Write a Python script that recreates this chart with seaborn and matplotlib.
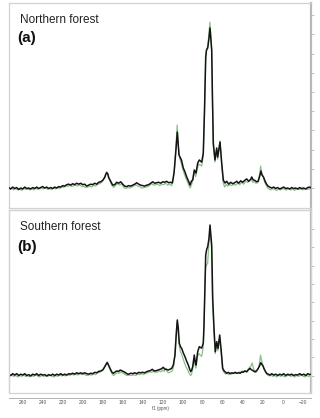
import numpy as np
import pandas as pd
import seaborn as sns
import matplotlib
matplotlib.use('Agg')
import matplotlib.pyplot as plt
from matplotlib.patches import Rectangle
from matplotlib.ticker import MultipleLocator

# panel titles and labels
titles = ['Northern forest', 'Southern forest']
letters = ['(a)', '(b)']
x_ticks = list(range(260, -21, -20))
x_label = 'f1 (ppm)'

# (ppm, intensity), black = sample, green = overlay
north_black = [
    (274, 0.5), (272, -1), (270, 1), (268, -0.5), (266, 0.5), (264, -1.5), (262, 0), (260, -1),
    (258, 1), (256, -0.5), (254, 0), (252, -1), (250, 0.5), (248, -0.5), (246, 1), (244, -0.5),
    (242, 0.5), (240, 1.5), (238, 0), (236, 1), (234, -0.5), (232, 0.5), (230, -0.5), (228, 1),
    (226, 0), (224, 1.5), (222, 1), (220, 2.5), (218, 2), (216, 3.5), (214, 4), (212, 3),
    (210, 4.5), (208, 3.5), (206, 5), (204, 4), (202, 5), (200, 3.5), (198, 4), (196, 2),
    (194, 3), (192, 4), (190, 3.5), (188, 5), (186, 4), (184, 6), (182, 6.5), (180, 8),
    (178, 11), (177, 14), (176, 16), (175, 15), (174, 11), (172, 7), (170, 3), (168, 3.5),
    (166, 6), (164, 5), (162, 6.5), (160, 4), (158, 2), (156, 1.5), (154, 2.5), (152, 2),
    (150, 3), (148, 4), (146, 5.5), (144, 4), (142, 3), (140, 2.5), (138, 2), (136, 3),
    (134, 3.5), (132, 5), (130, 6.5), (128, 5), (126, 5.5), (124, 6), (122, 5), (120, 6.5),
    (118, 6), (116, 7), (114, 5.5), (112, 6), (110.4, 5.2), (108.7, 15.6), (107, 36.5),
    (105.4, 58.3), (103.7, 34.4), (102.7, 32.3), (101.2, 29), (99.4, 20.8), (97.7, 16.7),
    (96, 11.5), (94.2, 7.3), (92.7, 3.1), (91.2, 7.3), (90, 8.3), (88.4, 18.8), (86.7, 15.6),
    (85, 26), (83.4, 29.2), (82.2, 28), (81, 27), (79.4, 36.5), (78.2, 81), (77, 136.5),
    (76.2, 143.8), (75, 145.8), (73.7, 156), (72.7, 166.7), (71.7, 154), (71, 143.8),
    (70.2, 91.7), (69.4, 46.9), (67.7, 29.2), (66, 41.7), (65, 32.3), (62.7, 47.9), (61, 26),
    (59.4, 8.3), (57.7, 5.2), (56, 7), (54, 4), (52, 6), (50, 4.5), (48, 5.5), (46, 7),
    (44, 5), (42, 7.5), (40, 6), (38, 8), (36, 9.5), (34, 7), (32, 9), (31, 11.5), (29.5, 8.5),
    (28, 8), (26, 6.5), (24.5, 7), (22.7, 13.5), (21.7, 17.7), (20.7, 13.5), (19.2, 11.5),
    (17.7, 7.3), (16.2, 4.2), (14.7, 2), (13, 1), (11, 0), (9, 1), (7, -0.5), (5, 0.5),
    (3, -1), (1, 0), (-1, 1), (-3, -0.5), (-5, 0), (-7, -1), (-9, 0.5), (-11, -0.5), (-13, 0),
    (-15, -1), (-17, 0.5), (-19, -0.5), (-21, 0), (-23, -1), (-25, 0.5), (-27, 1), (-28.5, 0),
]
north_green = [
    (273, -1.5), (271, 0), (269, -2), (267, -0.5), (265, -2), (263, -1), (261, -2.5), (259, 0),
    (257, -1.5), (255, -1), (253, -2), (251, -0.5), (249, -2), (247, 0), (245, -1.5), (243, -0.5),
    (241, 0), (239, -1), (237, 0.5), (235, -1.5), (233, -0.5), (231, -1.5), (229, 0), (227, -1),
    (225, 0.5), (223, -0.5), (221, 1.5), (219, 0.5), (217, 2.5), (215, 1.5), (213, 3), (211, 1.5),
    (209, 2.5), (207, 3), (205, 2), (203, 3.5), (201, 1.5), (199, 2), (197, 0.5), (195, 1),
    (193, 2), (191, 1), (189, 3), (187, 2), (185, 4), (183, 4.5), (181, 6), (179, 9),
    (177.5, 13), (176, 17), (174.5, 12), (173, 8), (171, 3), (169, 0.5), (167, 3), (165, 4.5),
    (163, 3), (161, 4.5), (159, 0.5), (157, -0.5), (155, 0.5), (153, 0), (151, 1), (149, 2),
    (147, 3.5), (145, 2), (143, 1.5), (141, 0), (139, 0.5), (137, 1), (135, 1.5), (133, 3),
    (131, 4.5), (129, 3), (127, 3.5), (125, 4), (123, 2.5), (121, 4), (119, 3.5), (117, 5),
    (115, 3), (113, 4), (111, 2.5), (109.5, 8), (108, 22), (106.5, 48), (105.5, 65.6),
    (104.5, 45), (103, 31), (101.5, 26), (100, 20), (98.5, 15), (97, 11), (95.5, 7), (94, 3),
    (92.5, 0), (91, 4), (89.5, 10), (88.5, 17), (87, 12), (85.5, 20), (84, 25), (82.5, 24),
    (81, 23), (79.5, 33), (78.2, 78), (77, 134), (76, 145), (75, 147), (73.8, 160),
    (72.8, 172.9), (71.8, 158), (71, 142), (70.2, 88), (69.4, 44), (67.7, 27), (66, 40),
    (65, 30), (62.7, 49), (61, 24), (59.4, 5), (58, 1), (56.5, 4), (55, 2), (53, 3.5),
    (51, 2.5), (49, 4), (47, 3), (45, 5), (43, 3.5), (41, 6), (39, 4), (37, 7), (35, 6),
    (33, 8), (31.5, 10), (30, 6), (28.5, 6.5), (27, 5), (25, 5.5), (23.5, 12), (22, 22.9),
    (21, 15), (19.5, 12), (18, 6), (16.5, 3), (15, 0), (13.5, -1), (12, -2), (10, -0.5),
    (8, -1.5), (6, -2.5), (4, -1), (2, -2), (0, -0.5), (-2, -1.5), (-4, -2), (-6, -0.5),
    (-8, -2), (-10, -1), (-12, -2.5), (-14, -0.5), (-16, -1.5), (-18, -1), (-20, -2),
    (-22, -0.5), (-24, -1.5), (-26, -1), (-28.5, -1.5),
]
south_black = [
    (274, 1.5), (272, 0), (270, 2), (268, 0.5), (266, 2), (264, 0), (262, 1.5), (260, 0.5),
    (258, 2), (256, 0), (254, 1), (252, -0.5), (250, 1.5), (248, 0.5), (246, 2), (244, 0),
    (242, 1.5), (240, 0.5), (238, 1), (236, -0.5), (234, 1), (232, 0), (230, 1.5), (228, 0),
    (226, 1.5), (224, 0.5), (222, 2), (220, 0.5), (218, 1.5), (216, 0.5), (214, 2), (212, 1.5),
    (210, 2.5), (208, 1.5), (206, 3), (204, 2), (202, 3), (200, 2), (198, 3), (196, 2),
    (194, 1.5), (192, 2.5), (190, 2), (188, 3.5), (186, 3), (184, 4.5), (182, 5), (180, 6),
    (178.5, 8.5), (177, 11.5), (175.5, 14.4), (174, 11), (172.5, 7.5), (171, 4), (169.5, 2.4),
    (168, 3.5), (166, 5), (164, 4.5), (162.5, 6), (160.5, 5), (158.5, 4), (156.5, 2.5),
    (154.5, 1.3), (152, 2.5), (150, 2), (148, 3), (146, 2), (144, 3.5), (142.5, 3), (140, 3.5),
    (138, 3), (136, 4.2), (134, 5), (132, 5.5), (130.5, 6.8), (128.5, 5), (126.5, 5.3),
    (124.5, 6), (122.5, 6.8), (121, 7.5), (119.5, 9), (118, 7), (116.5, 6.8), (114.5, 6),
    (112.5, 7), (111, 7.9), (109.4, 11.5), (107.7, 22.4), (106.7, 40.7), (105.4, 60.7),
    (104.4, 51.6), (103.4, 35.2), (102, 31), (101, 29.7), (99.5, 25), (97.7, 20.5), (96, 15.5),
    (94.4, 11.5), (93, 7), (92, 4.2), (91, 6), (90, 9.6), (88.4, 22.4), (87.5, 15), (86.7, 11.5),
    (85, 26), (83.4, 31.5), (82, 30.5), (81, 30), (79.4, 35.5), (78.7, 55), (77.7, 102),
    (77, 131.7), (76, 138), (75, 140.8), (73.7, 150), (72.7, 164.5), (71, 142.6), (70, 84.7),
    (68.7, 51.6), (67.4, 26), (66, 37), (64.7, 29.7), (63, 44.3), (61.4, 26), (60, 7.9),
    (58.5, 5), (57.7, 4.2), (56, 2.5), (54.4, 3.5), (52.5, 2), (51, 3), (49.4, 2.4), (47.5, 3.5),
    (46, 2.5), (44.4, 3), (42.5, 2.5), (41, 4), (39.7, 3.5), (38, 5), (36, 4), (34.5, 6),
    (32.7, 7.9), (31.5, 6.5), (30.7, 6), (29, 5), (27.7, 4), (26, 5.5), (24.4, 7.9), (23, 11),
    (22, 14), (21, 12.5), (20.4, 11.5), (19.5, 10), (18.4, 6.8), (17, 4), (16, 2.4), (14.5, 1.5),
    (12.7, 0.5), (11, 2), (9, 0.5), (7, 1.5), (5, 0), (3, 1.5), (1, 0.5), (-1, 2), (-3, 0),
    (-5, 1.5), (-7, 0.5), (-9, 1.5), (-11, 0), (-13, 1), (-15, 0.5), (-17, 2), (-19, 0.5),
    (-21, 1.5), (-23, 0), (-25, 2), (-27, 1), (-28.5, 1.5),
]
south_green = [
    (273, -0.5), (271, 0.5), (269, -1), (267, 0), (265, -1.5), (263, 0), (261, -1), (259, 0.5),
    (257, -1), (255, -0.5), (253, -1.5), (251, 0), (249, -1), (247, 0.5), (245, -0.5), (243, -1.5),
    (241, 0), (239, -1), (237, 0), (235, -1), (233, 0.5), (231, -0.5), (229, -1.5), (227, 0),
    (225, -1), (223, 0.5), (221, -0.5), (219, 0.5), (217, -0.5), (215, 1), (213, 0), (211, 1.5),
    (209, 0.5), (207, 1.5), (205, 0.5), (203, 2), (201, 1), (199, 1.5), (197, 0.5), (195, 0),
    (193, 1), (191, 0.5), (189, 1.5), (187, 1), (185, 3), (183, 3.5), (181, 5), (179.5, 7),
    (178, 10), (176.5, 13), (175, 13.5), (173.5, 9), (172, 5), (170.5, 1.5), (169, 0),
    (167.5, 1.5), (165.5, 3), (163.5, 2.5), (161.5, 4), (159.5, 2.5), (157.5, 1), (155.5, 0),
    (153.5, 0.5), (151, 0), (149, 1), (147, 0), (145, 1.5), (143, 1), (141, 2), (139, 1),
    (137, 2.5), (135, 3), (133, 4), (131, 3.5), (129, 4.5), (127, 3.5), (125, 4), (123, 5),
    (121.5, 4), (120, 6), (118.5, 4.5), (117, 8), (115.5, 4), (114, 3), (112, 4), (110.5, 5),
    (109, 10), (108, 20), (107, 38), (105.8, 58), (104.8, 52), (103.8, 36), (102.5, 27),
    (101, 23), (99.5, 18), (98, 13), (96.5, 9), (95, 6), (93.5, 2), (92, 0), (91, 2), (90, 7),
    (88.8, 19), (87.8, 12), (86.8, 8), (85.2, 21), (83.8, 24), (82.3, 22), (81, 21), (79.6, 30),
    (78.8, 50), (77.8, 95), (77, 118), (76, 121), (75, 123), (73.8, 145), (72.8, 160),
    (71.2, 140), (70.2, 82), (68.8, 48), (67.5, 24), (66.1, 35), (64.8, 27), (63.1, 42),
    (61.5, 24), (60.1, 6), (58.5, 3), (57, 1.5), (55.5, 3), (54, 1), (52.5, 2.5), (51, 1.5),
    (49.5, 3), (48, 2), (46.5, 3.5), (45, 2), (43.5, 4), (42, 3), (40.5, 5), (39, 3.5),
    (37.5, 5.5), (36, 4.5), (34.5, 7), (33, 9), (31.5, 11), (30.5, 13.7), (29.5, 9), (28, 4),
    (26.5, 3.5), (25, 6), (24, 9), (23, 15), (22.2, 22.4), (21.2, 17), (20, 12), (19, 8),
    (17.8, 5), (16.5, 2), (15, 0.5), (13.5, -0.5), (12, 0.5), (10, -1), (8, 0), (6, -1.5),
    (4, 0.5), (2, -1), (0, 0), (-2, -1.5), (-4, -0.5), (-6, 0.5), (-8, -1), (-10, 0),
    (-12, -1.5), (-14, 0), (-16, -1), (-18, 0.5), (-20, -0.5), (-22, -1.5), (-24, 0),
    (-26, -1), (-28.5, 0),
]

sns.set_style('white')
plt.rcParams['font.family'] = ['Liberation Sans', 'DejaVu Sans']

fig = plt.figure(figsize=(3.2, 4.18), dpi=100)
ax1 = fig.add_axes([9 / 320, 1 - 208 / 418, 302 / 320, 205 / 418])
ax2 = fig.add_axes([9 / 320, 1 - 393 / 418, 302 / 320, 183 / 418])

frame_col = '#d2d2d2'
axis_col = '#b8b8b8'


def draw_panel(ax, black, green, title, letter, ylim, ytop, title_y, letter_y):
    g = pd.DataFrame(green, columns=['ppm', 'intensity'])
    b = pd.DataFrame(black, columns=['ppm', 'intensity'])
    sns.lineplot(data=g, x='ppm', y='intensity', ax=ax, color='#8dbf88',
                 lw=0.9, estimator=None, sort=False, zorder=2)
    sns.lineplot(data=b, x='ppm', y='intensity', ax=ax, color='#141414',
                 lw=1.1, estimator=None, sort=False, zorder=3)
    ax.set_xlim(273.7, -28.3)
    ax.set_ylim(*ylim)
    ax.set_xlabel('')
    ax.set_ylabel('')
    ax.set_yticks(range(0, ytop + 1, 20))
    ax.tick_params(axis='y', left=False, right=True, labelleft=False, labelright=False,
                   direction='out', length=2, width=0.6, color=axis_col)
    for s in ['left', 'top', 'bottom']:
        ax.spines[s].set_color(frame_col)
        ax.spines[s].set_linewidth(0.9)
    ax.spines['right'].set_color(axis_col)
    ax.spines['right'].set_linewidth(1.6)
    ax.text(0.036, title_y, title, transform=ax.transAxes, fontsize=8.5,
            ha='left', va='center', color='#222222')
    ax.text(0.026, letter_y, letter, transform=ax.transAxes, fontsize=11,
            fontweight='bold', ha='left', va='center', color='#111111')


draw_panel(ax1, north_black, north_green, titles[0], letters[0],
           (-20.8, 192.7), 180, 0.917, 0.829)
draw_panel(ax2, south_black, south_green, titles[1], letters[1],
           (-19.1, 180.9), 160, 0.905, 0.80)

# top panel has no x axis
ax1.set_xticks([])

# bottom panel: box plus a separate ppm axis just below it
ax2.add_patch(Rectangle((0, 0), 1, 1, transform=ax2.transAxes, fill=False,
                        ec=frame_col, lw=0.9, clip_on=False, zorder=5))
ax2.spines['bottom'].set_position(('outward', 3.4))
ax2.spines['bottom'].set_color('#a8a8a8')
ax2.spines['bottom'].set_linewidth(0.6)
ax2.set_xticks(x_ticks)
ax2.xaxis.set_minor_locator(MultipleLocator(5))
ax2.tick_params(axis='x', which='major', direction='inout', length=2, width=0.5,
                color='#999999', labelsize=3.5, labelcolor='#555555', pad=1)
ax2.tick_params(axis='x', which='minor', direction='inout', length=1.2, width=0.4,
                color='#aaaaaa')
ax2.set_xlabel(x_label, fontsize=3.3, color='#555555', labelpad=0.5)

fig.savefig('out.png', dpi=100)
